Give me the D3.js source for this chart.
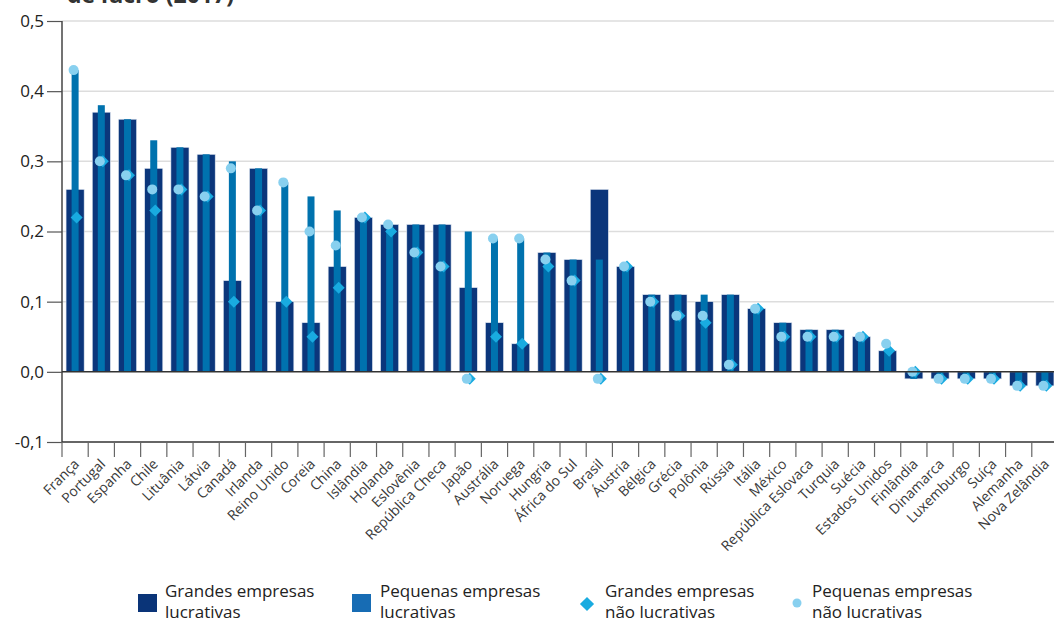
<!DOCTYPE html>
<html><head><meta charset="utf-8">
<script src="https://cdn.jsdelivr.net/npm/d3@7"></script>
<style>
html,body{margin:0;padding:0;background:#fff;}
svg{display:block;font-family:"Open Sans","Noto Sans",sans-serif;}
</style></head>
<body>
<svg id="c" width="1054" height="623"></svg>
<script>
const countries = ["França","Portugal","Espanha","Chile","Lituânia","Látvia","Canadá","Irlanda","Reino Unido","Coreia","China","Islândia","Holanda","Eslovênia","República Checa","Japão","Austrália","Noruega","Hungria","África do Sul","Brasil","Áustria","Bélgica","Grécia","Polônia","Rússia","Itália","México","República Eslovaca","Turquia","Suécia","Estados Unidos","Finlândia","Dinamarca","Luxemburgo","Suíça","Alemanha","Nova Zelândia"];
const grandesLucrativas = [0.26,0.37,0.36,0.29,0.32,0.31,0.13,0.29,0.10,0.07,0.15,0.22,0.21,0.21,0.21,0.12,0.07,0.04,0.17,0.16,0.26,0.15,0.11,0.11,0.10,0.11,0.09,0.07,0.06,0.06,0.05,0.03,-0.01,-0.01,-0.01,-0.01,-0.02,-0.02];
const pequenasLucrativas = [0.43,0.38,0.36,0.33,0.32,0.31,0.30,0.29,0.27,0.25,0.23,0.22,0.21,0.21,0.21,0.20,0.19,0.19,0.17,0.16,0.16,0.15,0.11,0.11,0.11,0.11,0.09,0.07,0.06,0.06,0.05,0.03,-0.01,-0.01,-0.01,-0.01,-0.02,-0.02];
const grandesNaoLucrativas = [0.22,0.30,0.28,0.23,0.26,0.25,0.10,0.23,0.10,0.05,0.12,0.22,0.20,0.17,0.15,-0.01,0.05,0.04,0.15,0.13,-0.01,0.15,0.10,0.08,0.07,0.01,0.09,0.05,0.05,0.05,0.05,0.03,0.00,-0.01,-0.01,-0.01,-0.02,-0.02];
const pequenasNaoLucrativas = [0.43,0.30,0.28,0.26,0.26,0.25,0.29,0.23,0.27,0.20,0.18,0.22,0.21,0.17,0.15,-0.01,0.19,0.19,0.16,0.13,-0.01,0.15,0.10,0.08,0.08,0.01,0.09,0.05,0.05,0.05,0.05,0.04,0.00,-0.01,-0.01,-0.01,-0.02,-0.02];
const yTicks = [-0.1,0,0.1,0.2,0.3,0.4,0.5];
const legendLabels = [["Grandes empresas","lucrativas"],["Pequenas empresas","lucrativas"],["Grandes empresas","não lucrativas"],["Pequenas empresas","não lucrativas"]];
const titleText = "de lucro (2017)";

const C_DARK = "#0b367b", C_MID = "#0072ae", C_DIA = "#19abe0", C_CIR = "#88d0ef";
const svg = d3.select("#c");
const left = 62, right = 1058;
const x = d3.scaleBand().domain(countries).range([left, right]).paddingInner(0.31).paddingOuter(0.155);
const xb = d3.scaleBand().domain(countries).range([left, right]).padding(0);
const y = d3.scaleLinear().domain([-0.1, 0.5]).range([442, 21]);
const fmt = v => d3.format(".1f")(v).replace(".", ",").replace("−","-");

// title (clipped at top, as in the reference)
svg.append("text").attr("x", 67).attr("y", 3).attr("font-size", 23).attr("font-weight", 700)
  .attr("fill", "#333").text(titleText);

// gridlines
svg.append("g").selectAll("line").data(yTicks.filter(d => d !== 0 && d !== -0.1)).join("line")
  .attr("x1", left).attr("x2", 1054).attr("y1", d => y(d)).attr("y2", d => y(d))
  .attr("stroke", "#dddddd").attr("stroke-width", 1.5);

// y axis
const yAxis = d3.axisLeft(y).tickValues(yTicks).tickSize(15).tickPadding(3).tickFormat(fmt);
const gy = svg.append("g").attr("transform", `translate(${left},0)`).call(yAxis);
gy.select(".domain").remove();
gy.selectAll(".tick line").attr("stroke", "#555").attr("stroke-width", 1.2);
gy.selectAll(".tick text").attr("font-size", 17).attr("fill", "#222").attr("font-family", "'Open Sans',sans-serif");
svg.append("line").attr("x1", left).attr("x2", left).attr("y1", y(0.5)).attr("y2", y(-0.1))
  .attr("stroke", "#444").attr("stroke-width", 1.5);

// bars
const g = svg.append("g");
g.selectAll("rect.gl").data(countries).join("rect").attr("class","gl")
  .attr("x", d => x(d)).attr("width", x.bandwidth())
  .attr("y", (d,i) => y(Math.max(0, grandesLucrativas[i])))
  .attr("height", (d,i) => Math.abs(y(grandesLucrativas[i]) - y(0)))
  .attr("fill", C_DARK).attr("stroke", "#dfe6f0").attr("stroke-width", 0.6);
const iw = 7;
g.selectAll("rect.pl").data(countries).join("rect").attr("class","pl")
  .attr("x", d => x(d) + x.bandwidth()/2 - iw/2).attr("width", iw)
  .attr("y", (d,i) => y(Math.max(0, pequenasLucrativas[i])))
  .attr("height", (d,i) => Math.abs(y(pequenasLucrativas[i]) - y(0)))
  .attr("fill", C_MID);

// zero line
svg.append("line").attr("x1", left).attr("x2", 1054).attr("y1", y(0)).attr("y2", y(0))
  .attr("stroke", "#333").attr("stroke-width", 1.5);

// diamonds
g.selectAll("path.gn").data(countries).join("path").attr("class","gn")
  .attr("d", d3.symbol().type(d3.symbolSquare).size(72))
  .attr("transform", (d,i) => `translate(${x(d)+x.bandwidth()/2+1.5},${y(grandesNaoLucrativas[i])}) rotate(45)`)
  .attr("fill", C_DIA);
// circles
g.selectAll("circle.pn").data(countries).join("circle").attr("class","pn")
  .attr("cx", d => x(d)+x.bandwidth()/2-1.5).attr("cy", (d,i) => y(pequenasNaoLucrativas[i]))
  .attr("r", 5).attr("fill", C_CIR);

// bottom axis
svg.append("line").attr("x1", left).attr("x2", 1054).attr("y1", y(-0.1)).attr("y2", y(-0.1))
  .attr("stroke", "#333").attr("stroke-width", 1.5);
svg.append("g").selectAll("line").data(countries).join("line")
  .attr("x1", d => xb(d)).attr("x2", d => xb(d)).attr("y1", y(-0.1)).attr("y2", y(-0.1)+15)
  .attr("stroke", "#666").attr("stroke-width", 1.2);
svg.append("g").selectAll("text").data(countries).join("text")
  .attr("transform", d => `translate(${xb(d)+xb.bandwidth()/2+5},${465}) rotate(-45)`)
  .attr("text-anchor", "end").attr("font-size", 14).attr("fill", "#3a3a3a").text(d => d);

// legend
const lg = svg.append("g");
const lx = [138, 352, 587, 797];
lg.append("rect").attr("x", lx[0]).attr("y", 594).attr("width", 19).attr("height", 18).attr("fill", "#0a3478");
lg.append("rect").attr("x", lx[1]).attr("y", 594).attr("width", 19).attr("height", 18).attr("fill", "#176cb4");
lg.append("path").attr("d", d3.symbol().type(d3.symbolSquare).size(100)).attr("transform", `translate(${lx[2]},604) rotate(45)`).attr("fill", C_DIA);
lg.append("circle").attr("cx", lx[3]).attr("cy", 603).attr("r", 4.5).attr("fill", C_CIR);
const tx = [165, 380, 605, 812];
legendLabels.forEach((lines, k) => {
  const t = lg.append("text").attr("x", tx[k]).attr("y", 597).attr("font-size", 17).attr("fill", "#222");
  lines.forEach((s, j) => t.append("tspan").attr("x", tx[k]).attr("dy", j === 0 ? 0 : 21).text(s));
});
</script>
</body></html>
